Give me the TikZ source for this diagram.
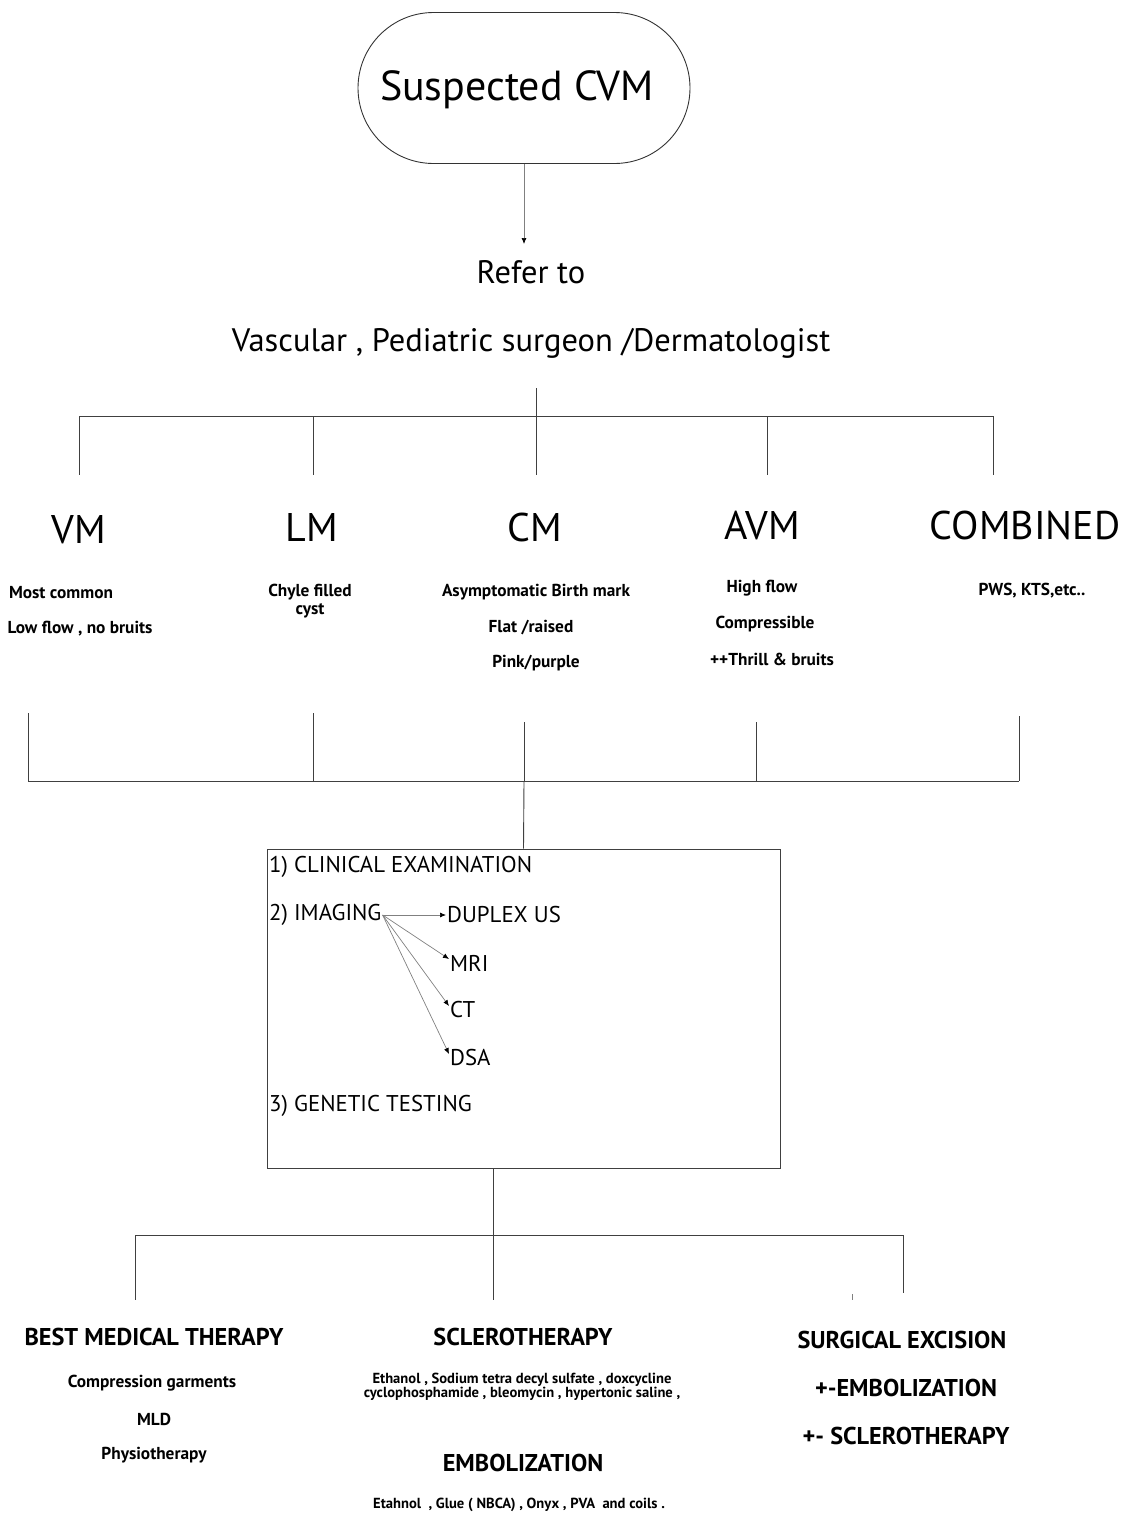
\documentclass[tikz,border=0pt]{standalone}
\usepackage{fontspec}
\setmainfont{PT Sans}
\usetikzlibrary{arrows.meta,positioning,shapes.misc}

\begin{document}
\begin{tikzpicture}[
        x=1pt, y=-1pt,
        line/.style={draw=black!75, line width=0.9pt},
        arrow/.style={-{Latex[length=6pt,width=5pt,black]}, draw=black!50, line width=0.7pt},
        start box/.style={
            rounded rectangle,
            draw=black!80,
            line width=0.9pt,
            minimum width=332pt,
            minimum height=151pt,
            inner sep=0pt
        },
        title/.style={inner sep=1pt, font=\fontsize{42}{50}\selectfont},
        refer/.style={inner sep=1pt, yshift=-3pt, font=\fontsize{32.5}{38}\selectfont},
        cat/.style={inner sep=1pt, font=\fontsize{40}{48}\selectfont},
        note/.style={inner sep=1pt, yshift=-2pt, align=center, font=\bfseries\fontsize{17.3}{18}\selectfont},
        exam box/.style={
            rectangle,
            draw=black!75,
            line width=0.9pt,
            minimum width=513pt,
            minimum height=319pt
        },
        boxtext/.style={inner sep=1pt, yshift=-3pt, font=\fontsize{22.8}{27}\selectfont},
        head/.style={inner sep=1pt, font=\bfseries\fontsize{24.3}{29}\selectfont},
        drug/.style={inner sep=1pt, align=center, font=\bfseries\fontsize{14.6}{14.5}\selectfont}
    ]
    \useasboundingbox (0,0) rectangle (1126,1515);

    % start
    \node[start box] (cvm) at (524,88) {};
    \node[title] (cvmtext) at (517,90) {Suspected CVM};
    \node[refer] (refer) at (531,269) {Refer to};
    \node[refer] (spec) at (531,340) {Vascular , Pediatric surgeon /Dermatologist};
    \coordinate (refertip) at (524,244);
    \draw[arrow] (cvm.south) -- (refertip);

    % first bracket
    \coordinate (t0) at (536,388);
    \foreach \n/\x in {a/79,b/313,c/536,d/767,e/993} {
        \coordinate (up\n) at (\x,416);
        \coordinate (dn\n) at (\x,475);
        \draw[line] (up\n) -- (dn\n);
    }
    \draw[line] (upa) -- (upe);
    \draw[line] (t0) -- (upc);

    % malformation types
    \foreach \n/\x/\y/\txt in {vm/79/530/VM, lm/312/527/LM, cm/535/527/CM, avm/762/525/AVM, comb/1025/525/COMBINED} {
        \node[cat] (\n) at (\x,\y) {\txt};
    }

    % features
    \node[note] (vm1) at (61,591) {Most common};
    \node[note] (vm2) at (80,627) {Low flow , no bruits};
    \node[note] (lm1) at (310,599) {Chyle filled\\cyst};
    \node[note] (cm1) at (536,590) {Asymptomatic Birth mark};
    \node[note] (cm2) at (531,626) {Flat /raised};
    \node[note] (cm3) at (536,661) {Pink/purple};
    \node[note] (avm1) at (762,586) {High flow};
    \node[note] (avm2) at (765,622) {Compressible};
    \node[note] (avm3) at (772,657) {++Thrill \& bruits};
    \node[note] (comb1) at (1032,589) {PWS, KTS,etc..};

    % second bracket
    \foreach \n/\x/\y in {a/28/713,b/313/713,c/524/722,d/756/722,e/1019/716} {
        \coordinate (mt\n) at (\x,\y);
        \coordinate (mb\n) at (\x,781);
        \draw[line] (mt\n) -- (mb\n);
    }
    \draw[line] (mba) -- (mbe);

    % work-up
    \node[exam box] (exam) at (523.5,1008.5) {};
    \draw[line] (mbc) -- (exam.north);
    \node[boxtext, anchor=west] (clin) at (268,864) {1) CLINICAL EXAMINATION};
    \node[boxtext, anchor=west] (imag) at (268,912) {2) IMAGING};
    \node[boxtext, anchor=west] (dup) at (446,912) {DUPLEX US};
    \node[boxtext, anchor=west] (mri) at (449,960) {MRI};
    \node[boxtext, anchor=west] (ct) at (449,1007) {CT};
    \node[boxtext, anchor=west] (dsa) at (449,1055) {DSA};
    \node[boxtext, anchor=west] (gen) at (268,1103) {3) GENETIC TESTING};
    \draw[arrow] (imag.east) -- (dup.west);
    \foreach \m in {mri,ct,dsa} {
        \draw[arrow] (imag.east) -- ([yshift=4pt]\m.west);
    }

    % third bracket
    \coordinate (bs) at (493,1300);
    \draw[line] (exam.south -| bs) -- (bs);
    \coordinate (bl) at (135,1235);
    \coordinate (br) at (903,1235);
    \coordinate (bld) at (135,1300);
    \coordinate (brd) at (903,1293);
    \draw[line] (bl) -- (br);
    \draw[line] (bl) -- (bld);
    \draw[line] (br) -- (brd);
    \coordinate (tk1) at (852,1294);
    \coordinate (tk2) at (852,1300);
    \draw[line, draw=black!50] (tk1) -- (tk2);

    % treatment
    \node[head] (med) at (154,1337) {BEST MEDICAL THERAPY};
    \node[note] (med1) at (152,1381) {Compression garments};
    \node[note] (med2) at (154,1417) {MLD};
    \node[note] (med3) at (154,1453) {Physiotherapy};

    \node[head] (scl) at (523,1337) {SCLEROTHERAPY};
    \node[drug] (scl1) at (522,1387) {Ethanol , Sodium tetra decyl sulfate , doxcycline\\cyclophosphamide , bleomycin , hypertonic saline ,};
    \node[head] (emb) at (523,1463) {EMBOLIZATION};
    \node[drug] (emb1) at (519,1505) {Etahnol~ , Glue ( NBCA) , Onyx , PVA~ and coils .};

    \node[head] (surg) at (902,1340) {SURGICAL EXCISION};
    \node[head] (surg1) at (906,1388) {+-EMBOLIZATION};
    \node[head] (surg2) at (906,1436) {+- SCLEROTHERAPY};

\end{tikzpicture}
\end{document}
